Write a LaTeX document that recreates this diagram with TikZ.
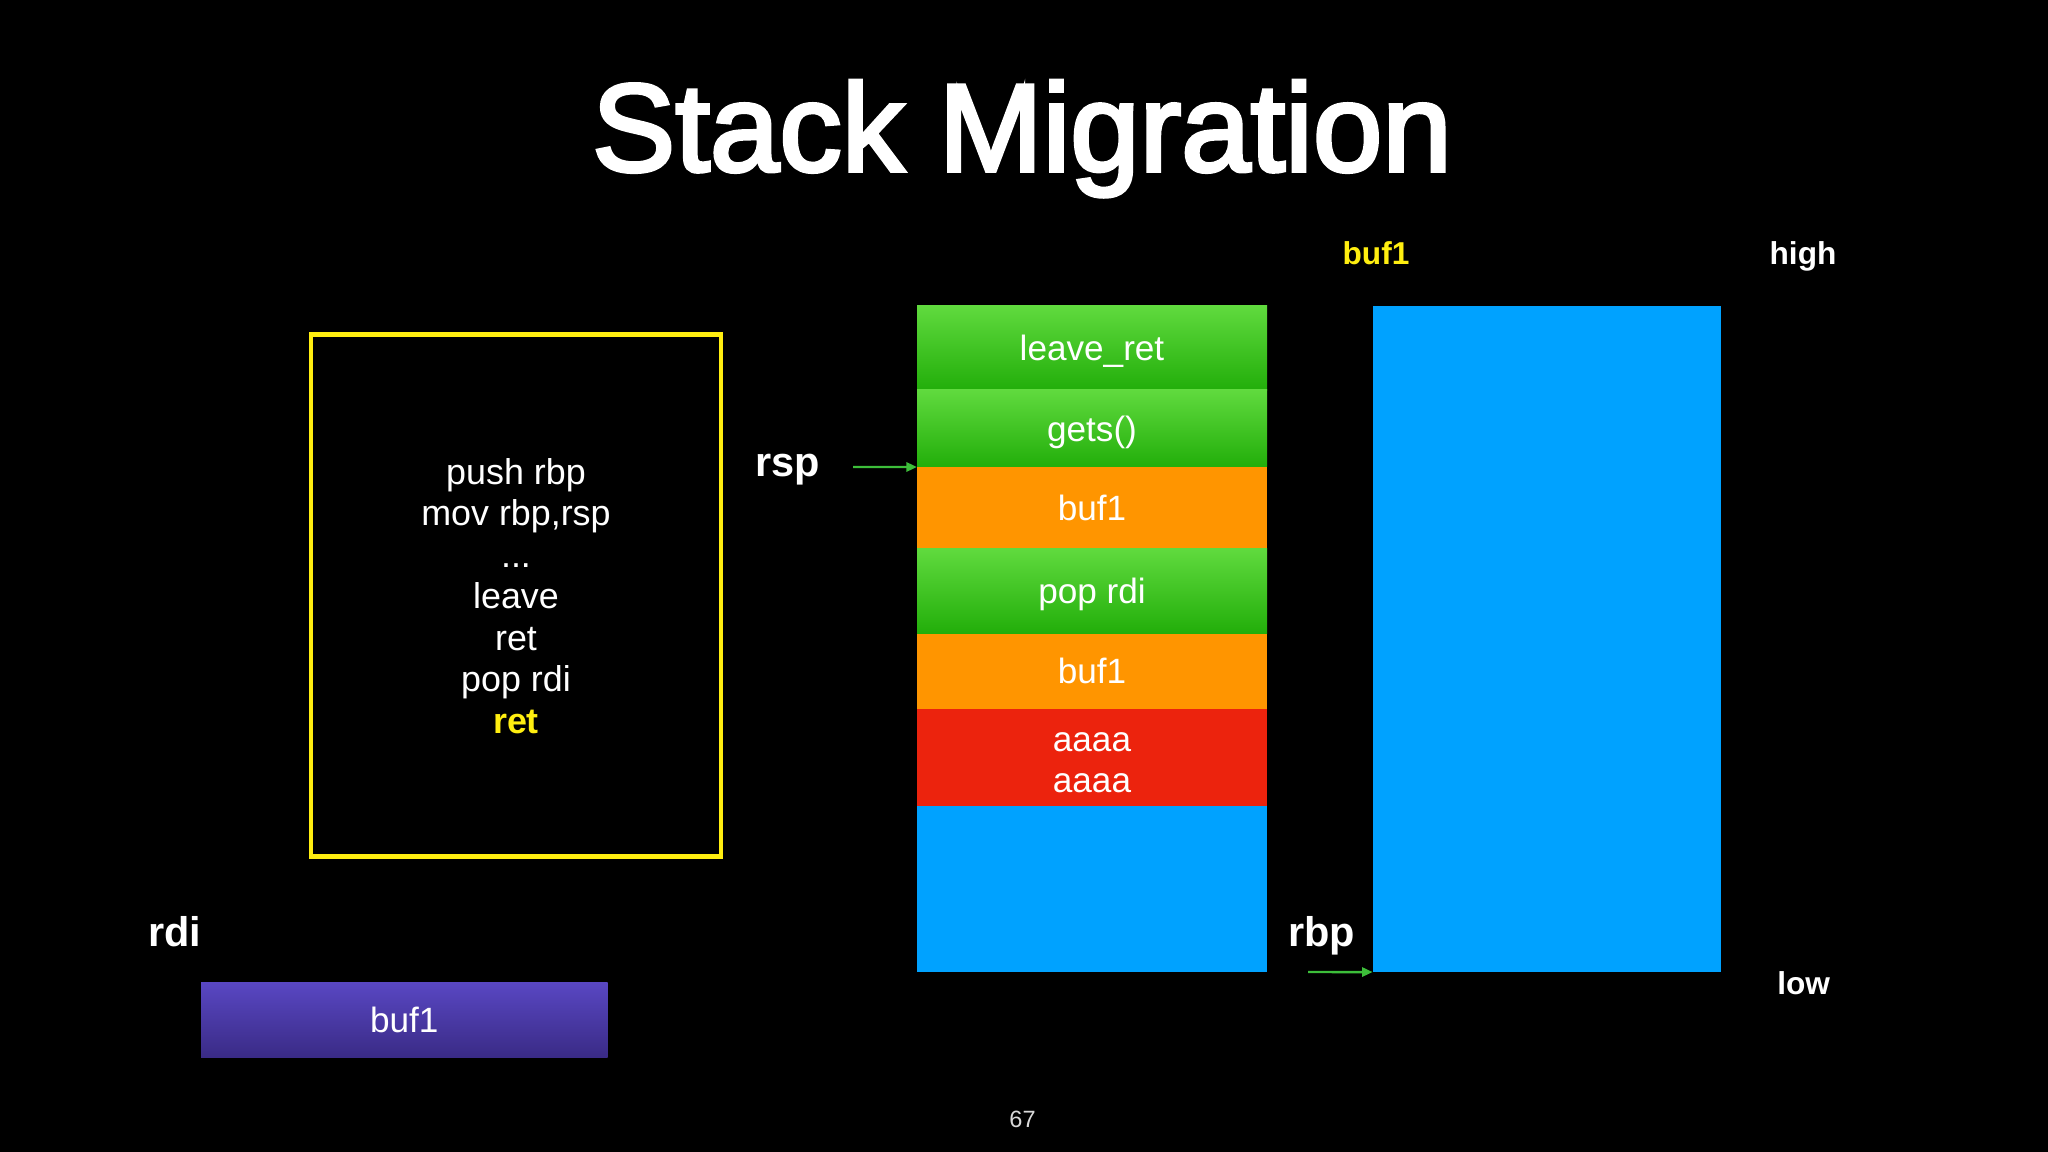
\documentclass[tikz,border=0pt]{standalone}
\usepackage{fontspec}
\setmainfont{Liberation Sans}
\newfontfamily\titlefont[FakeBold=3]{Liberation Sans}
\usepackage{xcolor}
\usepackage{tikz}
\usetikzlibrary{arrows.meta,shapes}
\definecolor{slotgreentop}{HTML}{60DA3E}
\definecolor{slotgreenbot}{HTML}{22AE0A}
\definecolor{slotorange}{HTML}{FF9500}
\definecolor{slotred}{HTML}{EC230D}
\definecolor{slotblue}{HTML}{00A2FF}
\definecolor{regtop}{HTML}{5947C3}
\definecolor{regbot}{HTML}{3A2B86}
\definecolor{hiyellow}{HTML}{FFEE10}
\definecolor{ptrgreen}{HTML}{3DBE3A}
\newcommand{\slotsize}{\fontsize{10}{11.8}\selectfont}
\newcommand{\codesize}{\fontsize{10.2}{11.8}\selectfont}
\newcommand{\regsize}{\fontsize{11.8}{14}\selectfont\bfseries}
\newcommand{\tagsize}{\fontsize{9}{11}\selectfont\bfseries}
\tikzstyle{slot}=[rectangle,inner sep=0pt,outer sep=0pt,minimum width=3.5cm,text=white,font=\slotsize,text height=0.9em,text depth=0.18em]
\tikzstyle{gadget}=[slot,top color=slotgreentop,bottom color=slotgreenbot]
\tikzstyle{addr}=[slot,fill=slotorange]
\tikzstyle{junk}=[slot,fill=slotred,align=center,text height=2.3em,text depth=0.3em]
\tikzstyle{free}=[slot,fill=slotblue]
\tikzstyle{reg}=[text=white,font=\regsize,inner sep=0pt,anchor=base]
\tikzstyle{tag}=[text=white,font=\tagsize,inner sep=0pt,anchor=base]
\tikzstyle{ptr}=[draw=ptrgreen,line width=0.7pt,-{Triangle[length=3pt,width=2.6pt]}]

\begin{document}
\begin{tikzpicture}
        \fill [black] (0,0) rectangle (20.48,-11.52);
        \node at (10.22,-1.71) [anchor=base,text=white,inner sep=0pt,font=\titlefont\fontsize{35.5}{40}\selectfont] (title) {Stack Migration};
        \node at (5.16,-5.956) [rectangle,draw=hiyellow,line width=1.4pt,minimum width=4.1cm,minimum height=5.22cm] (code) {};
        \node at (5.16,-7.333) [anchor=base,text=white,inner sep=0pt,align=center,font=\codesize] (asm) {push rbp\\mov rbp,rsp\\...\\leave\\ret\\pop rdi\\{\color{hiyellow}\bfseries ret}};
        \node at (10.92,-3.479) [gadget,minimum height=0.843cm] (leaveret) {leave\_ret};
        \node at (10.92,-4.285) [gadget,minimum height=0.77cm] (gets) {gets()};
        \node at (10.92,-5.078) [addr,minimum height=0.816cm] (bufA) {buf1};
        \node at (10.92,-5.911) [gadget,minimum height=0.85cm] (poprdi) {pop rdi};
        \node at (10.92,-6.711) [addr,minimum height=0.75cm] (bufB) {buf1};
        \node at (10.92,-7.575) [junk,minimum height=0.978cm] (pad) {aaaa\\aaaa};
        \node at (10.92,-8.892) [free,minimum height=1.656cm] (rest) {};
        \node at (15.47,-6.389) [free,minimum width=3.487cm,minimum height=6.663cm] (heap) {};
        \node at (4.043,-10.195) [slot,minimum width=4.065cm,minimum height=0.75cm,top color=regtop,bottom color=regbot] (rdival) {buf1};
        \node at (7.88,-4.767) [reg] (rsp) {rsp};
        \node at (13.215,-9.46) [reg] (rbp) {rbp};
        \node at (1.747,-9.467) [reg] (rdi) {rdi};
        \node at (13.76,-2.648) [tag,text=hiyellow] (heaplabel) {buf1};
        \node at (18.03,-2.648) [tag] (high) {high};
        \node at (18.037,-9.943) [tag] (low) {low};
        \node at (10.225,-11.273) [anchor=base,inner sep=0pt,text=white!85!black,font=\fontsize{6.7}{8}\selectfont] (page) {67};
        \coordinate (rspfrom) at (8.53,-4.67);
        \coordinate (rbpfrom) at (13.08,-9.72);
        \draw [ptr] (rspfrom) to (bufA.north west);
        \draw [ptr] (rbpfrom) to (heap.south west);
      \end{tikzpicture}
\end{document}
